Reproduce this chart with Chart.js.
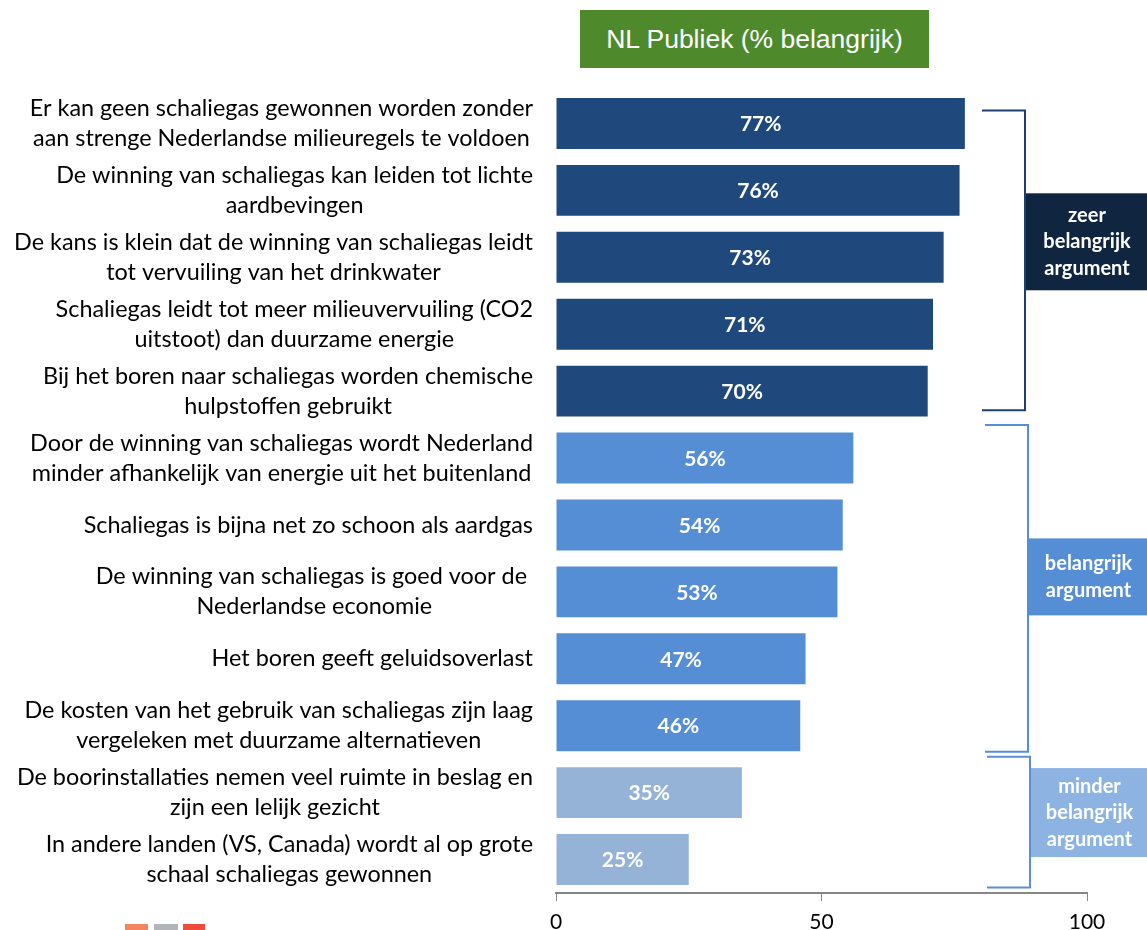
<!DOCTYPE html>
<html>
<head>
<meta charset="utf-8">
<script src="https://cdn.jsdelivr.net/npm/chart.js@4.4.1/dist/chart.umd.min.js"></script>
<style>
  body { margin: 0; background: #fff; }
  #wrap { position: relative; width: 1147px; height: 930px; }
  #title {
    position: absolute; left: 580px; top: 10px; width: 349px; height: 58px;
    background: #4e8a2c; color: #fff; font: 26.5px "Liberation Sans", Arial, sans-serif;
    display: flex; align-items: center; justify-content: center;
  }
</style>
</head>
<body>
<div id="wrap">
  <canvas id="myChart" width="1147" height="930"></canvas>
  <div id="title">NL Publiek (% belangrijk)</div>
</div>
<script>
// categories (each entry = lines of the label)
const arguments_ = [
  ["Er kan geen schaliegas gewonnen worden zonder", "aan strenge Nederlandse milieuregels te voldoen"],
  ["De winning van schaliegas kan leiden tot lichte", "aardbevingen"],
  ["De kans is klein dat de winning van schaliegas leidt", "tot vervuiling van het drinkwater"],
  ["Schaliegas leidt tot meer milieuvervuiling (CO2", "uitstoot) dan duurzame energie"],
  ["Bij het boren naar schaliegas worden chemische", "hulpstoffen gebruikt"],
  ["Door de winning van schaliegas wordt Nederland", "minder afhankelijk van energie uit het buitenland"],
  ["Schaliegas is bijna net zo schoon als aardgas"],
  ["De winning van schaliegas is goed voor de ", "Nederlandse economie"],
  ["Het boren geeft geluidsoverlast"],
  ["De kosten van het gebruik van schaliegas zijn laag", "vergeleken met duurzame alternatieven"],
  ["De boorinstallaties nemen veel ruimte in beslag en", "zijn een lelijk gezicht"],
  ["In andere landen (VS, Canada) wordt al op grote", "schaal schaliegas gewonnen"]
];
const belangrijk = [77, 76, 73, 71, 70, 56, 54, 53, 47, 46, 35, 25];
const xTicks = [0, 50, 100];

// groups on the right: first index, last index, label lines
const groupFirst = [0, 5, 10];
const groupLast = [4, 9, 11];
const groupLabels = [
  ["zeer", "belangrijk", "argument"],
  ["belangrijk", "argument"],
  ["minder", "belangrijk", "argument"]
];

const barColors = belangrijk.map((v, i) => i < 5 ? "#1f497d" : i < 10 ? "#558ed5" : "#95b3d7");

const FONT = "Lato, Calibri, sans-serif";

// left labels, centred lines in a right-aligned block
const labelPlugin = {
  id: "leftLabels",
  afterDraw(chart) {
    const ctx = chart.ctx;
    const y = chart.scales.y;
    ctx.save();
    ctx.font = "23.4px " + FONT;
    ctx.fillStyle = "#000";
    ctx.textAlign = "center";
    ctx.textBaseline = "middle";
    arguments_.forEach((lines, i) => {
      const yc = y.getPixelForValue(i);
      const w = Math.max(...lines.map((l) => ctx.measureText(l).width));
      const xc = chart.chartArea.left - 23 - w / 2;
      lines.forEach((l, j) => {
        ctx.fillText(l, xc, yc + (j - (lines.length - 1) / 2) * 30);
      });
    });
    ctx.restore();
  }
};

// white % labels inside the bars
const valuePlugin = {
  id: "values",
  afterDatasetsDraw(chart) {
    const ctx = chart.ctx;
    const meta = chart.getDatasetMeta(0);
    ctx.save();
    ctx.font = "bold 21px " + FONT;
    ctx.fillStyle = "#fff";
    ctx.textAlign = "center";
    ctx.textBaseline = "middle";
    meta.data.forEach((bar, i) => {
      ctx.fillText(belangrijk[i] + "%", (bar.base + bar.x) / 2, bar.y + 1);
    });
    ctx.restore();
  }
};

// brackets and group boxes
const groupPlugin = {
  id: "groups",
  afterDraw(chart) {
    const ctx = chart.ctx;
    const y = chart.scales.y;
    const lineCol = ["#1f3f6e", "#558ed5", "#5b8fd0"];
    const boxCol = ["#10253f", "#558ed5", "#8db3e2"];
    const topOff = [-13, -33, -36];
    const botOff = [19, 26, 28];
    const bx = [1025, 1028, 1030];
    const boxTop = [-67, -50, -54];
    const boxH = [97, 77, 89];
    ctx.save();
    groupFirst.forEach((f, g) => {
      const t = y.getPixelForValue(f) + topOff[g];
      const b = y.getPixelForValue(groupLast[g]) + botOff[g];
      ctx.strokeStyle = lineCol[g];
      ctx.lineWidth = 2;
      ctx.beginPath();
      ctx.moveTo(bx[g] - 43, t);
      ctx.lineTo(bx[g], t);
      ctx.lineTo(bx[g], b);
      ctx.lineTo(bx[g] - 43, b);
      ctx.stroke();
      const mid = (t + b) / 2;
      const top = mid + boxTop[g];
      ctx.fillStyle = boxCol[g];
      ctx.fillRect(bx[g] + 1, top, 1147 - bx[g], boxH[g]);
      ctx.fillStyle = "#fff";
      ctx.font = "bold 20px " + FONT;
      ctx.textAlign = "center";
      ctx.textBaseline = "middle";
      const lines = groupLabels[g];
      lines.forEach((l, j) => {
        ctx.fillText(l, (bx[g] + 1147) / 2 + 1, top + boxH[g] / 2 + (j - (lines.length - 1) / 2) * 26.5);
      });
    });
    // small logo at the bottom left
    ctx.fillStyle = "#f4845f"; ctx.fillRect(125, 924, 23, 6);
    ctx.fillStyle = "#b1b5b9"; ctx.fillRect(154, 924, 24, 6);
    ctx.fillStyle = "#ee4b3a"; ctx.fillRect(183, 924, 22, 6);
    ctx.restore();
  }
};

const ctx = document.getElementById("myChart");
const myChart = new Chart(ctx, {
  type: "bar",
  data: {
    labels: arguments_.map((l) => l.join(" ")),
    datasets: [
      {
        data: belangrijk,
        backgroundColor: barColors,
        borderWidth: 0,
        barPercentage: 0.76,
        categoryPercentage: 1
      }
    ]
  },
  options: {
    indexAxis: "y",
    responsive: false,
    animation: false,
    layout: { padding: { top: 90, right: 60, left: 0, bottom: 0 } },
    plugins: { legend: { display: false }, tooltip: { enabled: false } },
    scales: {
      x: {
        min: 0,
        max: 100,
        afterBuildTicks: (scale) => {
          scale.ticks = xTicks.map((v) => ({ value: v }));
        },
        afterFit: (scale) => { scale.height = 37; },
        grid: { drawOnChartArea: false, drawTicks: true, tickLength: 8, color: "#868686" },
        border: { display: true, color: "#868686", width: 2 },
        ticks: { color: "#000", font: { family: FONT, size: 21 }, padding: 9, maxRotation: 0 }
      },
      y: {
        afterFit: (scale) => { scale.width = 556; },
        grid: { display: false },
        border: { display: false },
        ticks: { display: false }
      }
    }
  },
  plugins: [labelPlugin, valuePlugin, groupPlugin]
});
</script>
</body>
</html>
